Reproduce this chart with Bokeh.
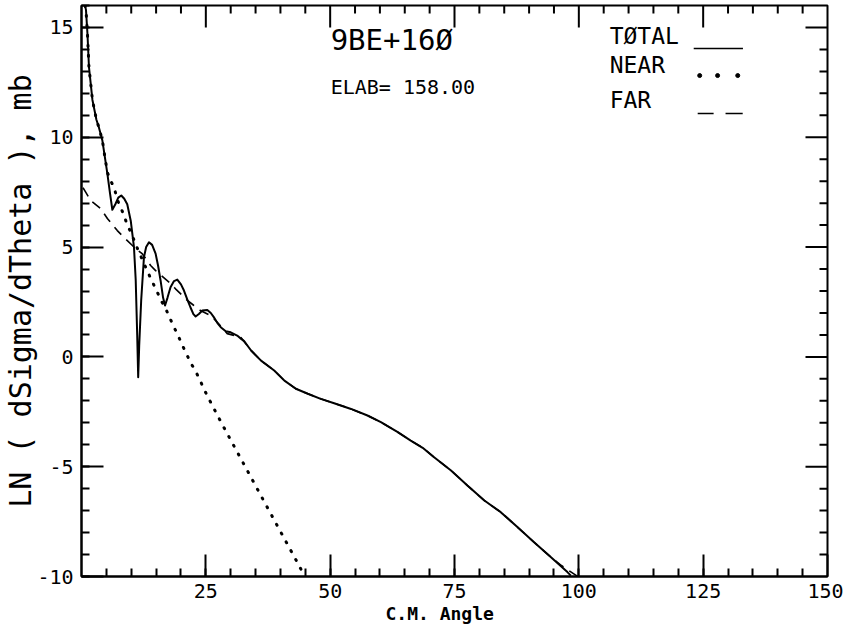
import math
from bokeh.plotting import figure
from bokeh.models import FixedTicker, Range1d, Label, Title
from bokeh.embed import file_html
from bokeh.resources import INLINE

# ---------------- data ----------------
angle_total = [0.7, 0.9, 1.2, 1.5, 2.2, 3.0, 3.5, 4.2, 4.7, 5.2, 5.7, 6.2, 6.8, 7.4, 8.0,
               8.6, 9.2, 9.9, 10.55, 10.9, 11.2, 11.4, 11.6, 12.0, 12.56, 13.0, 13.57,
               14.2, 14.9, 15.4, 15.9, 16.4, 16.8, 17.3, 17.9, 18.6, 19.26, 20.0, 20.6,
               21.3, 21.9, 22.5, 22.95, 23.6, 24.3, 25.3, 26.0, 26.6, 27.3, 28.0, 29.0,
               30.0, 31.3, 32.1, 32.7, 34.1, 36.1, 38.75, 40.8, 43.1, 45.5, 48.1, 50.8,
               54.2, 57.5, 60.2, 63.6, 66.2, 68.6, 70.9, 74.3, 77.6, 81.0, 84.3, 87.7,
               91.0, 94.4, 97.7, 98.4]
ln_total = [16.0, 15.8, 14.7, 13.2, 11.7, 10.8, 10.45, 9.85, 9.1, 8.34, 7.5, 6.7, 6.95, 7.25, 7.35,
            7.2, 6.95, 6.2, 5.0, 3.5, 1.0, -0.93, 0.5, 2.57, 4.54, 5.0, 5.22,
            5.1, 4.7, 4.15, 3.48, 2.7, 2.34, 2.7, 3.17, 3.45, 3.52, 3.3, 3.02,
            2.6, 2.26, 1.95, 1.84, 1.95, 2.11, 2.14, 2.0, 1.81, 1.55, 1.35, 1.17,
            1.12, 0.97, 0.82, 0.72, 0.29, -0.17, -0.62, -1.08, -1.45, -1.68, -1.91, -2.11,
            -2.37, -2.67, -2.97, -3.43, -3.81, -4.14, -4.57, -5.17, -5.86, -6.54, -7.07, -7.76,
            -8.44, -9.12, -9.8, -9.96]

angle_near = [0.7, 0.9, 1.2, 1.5, 2.2, 3.0, 3.5, 4.2, 4.7, 5.2, 5.8, 6.5, 7.5, 8.5, 9.1,
              9.9, 10.6, 11.4, 12.2, 12.9, 13.8, 14.6, 15.4, 16.2, 17.1, 17.9, 18.7,
              19.5, 20.3, 21.1, 21.95, 22.95, 23.8, 24.6, 25.4, 28.0, 31.0, 34.0, 37.0,
              40.0, 43.5, 44.9]
ln_near = [16.0, 15.8, 14.7, 13.2, 11.7, 10.8, 10.45, 9.85, 9.1, 8.4, 8.05, 7.73, 6.98, 6.48, 6.07,
           5.68, 5.3, 4.85, 4.45, 4.08, 3.63, 3.25, 2.87, 2.49, 2.11, 1.70, 1.31,
           0.93, 0.52, 0.14, -0.27, -0.65, -1.05, -1.45, -1.82, -2.95, -4.2, -5.45, -6.7,
           -7.95, -9.4, -10.0]

angle_far = [0.3, 0.84, 1.85, 3.86, 5.2, 7.2, 8.5, 10.9, 12.2, 13.9, 14.9, 17.9, 18.9,
             21.3, 22.6, 24.0, 26.0, 27.3, 29.3, 32.0, 34.1, 36.1, 38.75, 40.8, 43.1,
             45.5, 48.1, 50.8, 54.2, 57.5, 60.2, 63.6, 66.2, 68.6, 70.9, 74.3, 77.6,
             81.0, 84.3, 87.7, 91.0, 94.4, 96.5, 99.8]
ln_far = [7.7, 7.5, 7.12, 6.75, 6.3, 5.75, 5.45, 4.93, 4.7, 4.16, 3.93, 3.34, 3.1,
          2.57, 2.34, 2.1, 1.88, 1.58, 1.06, 0.9, 0.29, -0.17, -0.62, -1.08, -1.45,
          -1.68, -1.91, -2.11, -2.37, -2.67, -2.97, -3.43, -3.81, -4.14, -4.57, -5.17, -5.86,
          -6.54, -7.07, -7.76, -8.44, -9.12, -9.5, -10.0]

x_major = [25, 50, 75, 100, 125, 150]
x_minor = list(range(5, 150, 5))
y_major = [-10, -5, 0, 5, 10, 15]
y_minor = list(range(-10, 17))
y_labels = {-10: "-10", -5: "-5", 0: "0", 5: "5", 10: "10", 15: "15"}

title_text = "9BE+16\u00d8"
energy_text = "ELAB= 158.00"
legend_names = ["T\u00d8TAL", "NEAR", "FAR"]
x_title = "C.M. Angle"
y_title = "LN ( dSigma/dTheta ), mb"

X_MIN, X_MAX = 0, 150
Y_MIN, Y_MAX = -10, 16
FONT = "DejaVu Sans Mono"
MAJOR_LEN, MINOR_LEN = 22, 8

# ---------------- figure ----------------
p = figure(width=843, height=626, output_backend="svg", toolbar_location=None,
           x_range=Range1d(X_MIN, X_MAX), y_range=Range1d(Y_MIN, Y_MAX),
           min_border_left=73, min_border_right=16, min_border_top=5, min_border_bottom=50,
           background_fill_color="white", border_fill_color="white")
p.xgrid.visible = False
p.ygrid.visible = False
p.outline_line_color = "black"
p.outline_line_width = 2


def style_axis(ax, ticks, minor):
    ax.ticker = FixedTicker(ticks=ticks, minor_ticks=minor)
    ax.axis_line_color = "black"
    ax.axis_line_width = 2
    ax.major_tick_line_color = "black"
    ax.major_tick_line_width = 2
    ax.minor_tick_line_color = "black"
    ax.minor_tick_line_width = 2
    ax.major_tick_in = MAJOR_LEN
    ax.major_tick_out = 0
    ax.minor_tick_in = MINOR_LEN
    ax.minor_tick_out = 0
    ax.major_label_text_font = FONT
    ax.major_label_text_font_size = "20px"
    ax.major_label_text_color = "black"
    ax.major_label_standoff = 8


style_axis(p.xaxis[0], x_major, x_minor)
style_axis(p.yaxis[0], y_major, y_minor)
p.xaxis[0].major_label_standoff = 7
p.yaxis[0].major_label_overrides = y_labels
p.yaxis[0].axis_label = y_title
p.yaxis[0].axis_label_text_font = FONT
p.yaxis[0].axis_label_text_font_size = "30px"
p.yaxis[0].axis_label_text_font_style = "normal"
p.yaxis[0].axis_label_text_color = "black"
p.yaxis[0].axis_label_standoff = -4

# x-axis title, placed below the tick labels and left of centre as in the reference
p.add_layout(Title(text=x_title, align="left", offset=304, text_font=FONT,
                   text_font_size="18px", text_font_style="bold", text_color="black",
                   standoff=0), "below")

# inward ticks on the top and right frame edges
top_major = [t for t in x_major if t < X_MAX]
top_minor = [t for t in x_minor if t not in x_major]
p.ray(x=top_major, y=[Y_MAX] * len(top_major), length=MAJOR_LEN, length_units="screen",
      angle=-math.pi / 2, line_color="black", line_width=2)
p.ray(x=top_minor, y=[Y_MAX] * len(top_minor), length=MINOR_LEN, length_units="screen",
      angle=-math.pi / 2, line_color="black", line_width=2)
right_major = [t for t in y_major if t > Y_MIN]
right_minor = [t for t in y_minor if t not in y_major and Y_MIN < t < Y_MAX]
p.ray(x=[X_MAX] * len(right_major), y=right_major, length=MAJOR_LEN, length_units="screen",
      angle=math.pi, line_color="black", line_width=2)
p.ray(x=[X_MAX] * len(right_minor), y=right_minor, length=MINOR_LEN, length_units="screen",
      angle=math.pi, line_color="black", line_width=2)

# ---------------- curves ----------------
p.line(angle_total, ln_total, line_color="black", line_width=2, line_join="round")
p.line(angle_far, ln_far, line_color="black", line_width=1.6, line_dash="10 7")
p.line(angle_near, ln_near, line_color="black", line_width=3, line_dash="1 9", line_cap="round")

# ---------------- texts ----------------
p.add_layout(Label(x=50.1, y=14.45, text=title_text, text_font=FONT, text_font_size="29px",
                   text_align="left", text_baseline="middle", text_color="black"))
p.add_layout(Label(x=50.1, y=12.31, text=energy_text, text_font=FONT, text_font_size="20px",
                   text_align="left", text_baseline="middle", text_color="black"))

# ---------------- hand-drawn legend (labels left, swatches right) ----------------
legend_x = 106.2
legend_y = [14.63, 13.27, 11.70]
for name, ly in zip(legend_names, legend_y):
    p.add_layout(Label(x=legend_x, y=ly, text=name, text_font=FONT, text_font_size="23px",
                       text_align="left", text_baseline="middle", text_color="black"))

p.line([123.1, 133.0], [14.04, 14.04], line_color="black", line_width=1.5)
p.scatter([124.3, 127.9, 131.95], [12.81, 12.81, 12.81], size=4, color="black")
p.segment(x0=[123.9, 129.5], y0=[11.08, 11.08], x1=[127.1, 132.95], y1=[11.08, 11.08],
          line_color="black", line_width=1.6)

open("out.html", "w").write(file_html(p, INLINE))
